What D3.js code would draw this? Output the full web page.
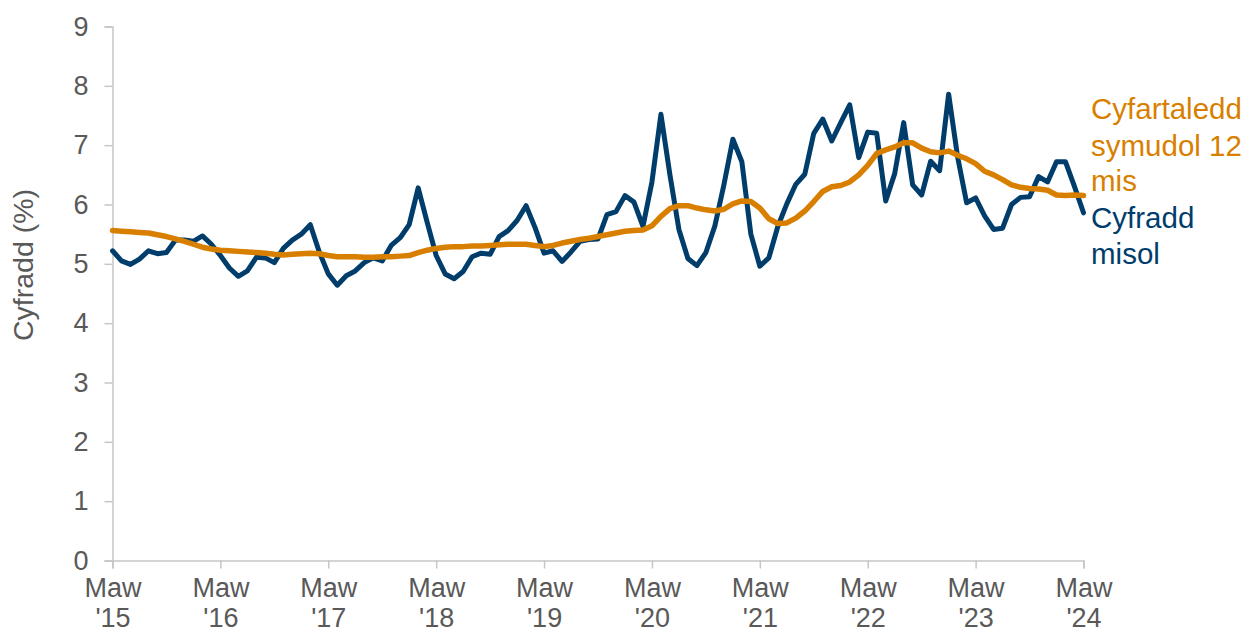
<!DOCTYPE html>
<html>
<head>
<meta charset="utf-8">
<script src="https://cdn.jsdelivr.net/npm/d3@7"></script>
<style>
  html, body { margin: 0; padding: 0; background: #ffffff; }
  svg { display: block; font-family: "Liberation Sans", Arial, sans-serif; }
</style>
</head>
<body>
<svg id="chart" width="1251" height="628"></svg>
<script>
// ---- Data ----
const startYear = 2015; // first point: Mawrth 2015, monthly to Mawrth 2024
const yTicks = [0, 1, 2, 3, 4, 5, 6, 7, 8, 9];
const xTickLabels = ["'15", "'16", "'17", "'18", "'19", "'20", "'21", "'22", "'23", "'24"];
const xTickMonth = "Maw";
const yAxisTitle = "Cyfradd (%)";
const seriesNames = ["Cyfartaledd symudol 12 mis", "Cyfradd misol"];

const monthlyRate = [
  5.22, 5.05, 4.99, 5.08, 5.22, 5.17, 5.19, 5.40, 5.40, 5.38, 5.47, 5.33,
  5.14, 4.93, 4.79, 4.88, 5.11, 5.10, 5.02, 5.26, 5.40, 5.50, 5.66, 5.20,
  4.83, 4.64, 4.80, 4.88, 5.02, 5.10, 5.05, 5.31, 5.44, 5.66, 6.28, 5.70,
  5.14, 4.83, 4.75, 4.87, 5.12, 5.18, 5.16, 5.46, 5.56, 5.73, 5.98, 5.61,
  5.18, 5.22, 5.04, 5.20, 5.38, 5.41, 5.42, 5.83, 5.88, 6.15, 6.04, 5.63,
  6.38, 7.52, 6.50, 5.58, 5.09, 4.97, 5.19, 5.64, 6.33, 7.10, 6.72, 5.50,
  4.96, 5.10, 5.63, 6.01, 6.34, 6.51, 7.20, 7.44, 7.07, 7.38, 7.68, 6.79,
  7.22, 7.20, 6.06, 6.52, 7.38, 6.33, 6.16, 6.73, 6.57, 7.86, 6.80, 6.03,
  6.11, 5.81, 5.58, 5.60, 6.00, 6.12, 6.13, 6.47, 6.38, 6.72, 6.72, 6.30,
  5.86
];

const rollingAvg = [
  5.56, 5.55, 5.54, 5.53, 5.52, 5.49, 5.46, 5.42, 5.38, 5.33, 5.28, 5.25,
  5.23, 5.22, 5.21, 5.20, 5.19, 5.18, 5.16, 5.15, 5.16, 5.17, 5.18, 5.17,
  5.14, 5.12, 5.12, 5.12, 5.11, 5.11, 5.12, 5.12, 5.13, 5.14, 5.19, 5.23,
  5.26, 5.28, 5.29, 5.29, 5.30, 5.30, 5.31, 5.32, 5.33, 5.33, 5.33, 5.31,
  5.29, 5.31, 5.35, 5.38, 5.41, 5.43, 5.46, 5.49, 5.52, 5.55, 5.56, 5.57,
  5.64, 5.80, 5.93, 5.98, 5.98, 5.94, 5.91, 5.89, 5.92, 6.01, 6.06, 6.05,
  5.94, 5.76, 5.68, 5.69, 5.77, 5.89, 6.05, 6.22, 6.30, 6.32, 6.38, 6.50,
  6.66, 6.86, 6.92, 6.97, 7.04, 7.04, 6.95, 6.89, 6.87, 6.90, 6.83, 6.77,
  6.69, 6.56, 6.50, 6.42, 6.33, 6.29, 6.27, 6.26, 6.24, 6.16, 6.15, 6.16,
  6.15
];

// ---- Layout ----
const svg = d3.select("#chart");
const colBlue = "#003d6b";
const colOrange = "#d97f00";
const colAxis = "#c6c6c6";
const colText = "#595959";

const x = d3.scaleLinear().domain([0, monthlyRate.length - 1]).range([112.5, 1083.5]);
const y = d3.scaleLinear().domain([0, 9]).range([560.5, 26.5]);

// Y axis
const yAxis = d3.axisLeft(y).tickValues(yTicks).tickSize(8).tickPadding(16).tickFormat(d3.format("d"));
const gy = svg.append("g").attr("transform", "translate(112.5,0)").call(yAxis);
gy.select(".domain").attr("stroke", colAxis).attr("stroke-width", 1.5);
gy.selectAll(".tick line").attr("stroke", colAxis).attr("stroke-width", 1.5);
gy.selectAll(".tick text").attr("fill", colText).attr("font-size", 27).attr("font-family", "Liberation Sans, Arial, sans-serif");

// X axis
const xTickVals = xTickLabels.map((_, i) => i * 12);
const xAxis = d3.axisBottom(x).tickValues(xTickVals).tickSize(8).tickFormat(() => "");
const gx = svg.append("g").attr("transform", "translate(0,560.5)").call(xAxis);
gx.select(".domain").attr("stroke", colAxis).attr("stroke-width", 1.5);
gx.selectAll(".tick line").attr("stroke", colAxis).attr("stroke-width", 1.5);
gx.selectAll(".tick").each(function(d, i) {
  const t = d3.select(this).select("text")
    .attr("fill", colText).attr("font-size", 27)
    .attr("font-family", "Liberation Sans, Arial, sans-serif")
    .attr("text-anchor", "middle").attr("y", 0).attr("dy", null);
  t.append("tspan").attr("x", 0).attr("y", 36).text(xTickMonth);
  t.append("tspan").attr("x", 0).attr("y", 66).text(xTickLabels[i]);
});

// Y axis title
svg.append("text")
  .attr("transform", "translate(33,265) rotate(-90)")
  .attr("text-anchor", "middle")
  .attr("fill", colText)
  .attr("font-size", 28.5)
  .text(yAxisTitle);

// Lines
const line = d3.line().x((d, i) => x(i)).y(d => y(d)).curve(d3.curveLinear);

svg.append("path")
  .datum(monthlyRate)
  .attr("fill", "none")
  .attr("stroke", colBlue)
  .attr("stroke-width", 5)
  .attr("stroke-linejoin", "round")
  .attr("stroke-linecap", "round")
  .attr("d", line);

svg.append("path")
  .datum(rollingAvg)
  .attr("fill", "none")
  .attr("stroke", colOrange)
  .attr("stroke-width", 5.5)
  .attr("stroke-linejoin", "round")
  .attr("stroke-linecap", "round")
  .attr("d", line);

// Direct labels
const lab1 = svg.append("text").attr("fill", colOrange).attr("font-size", 29.5);
[["Cyfartaledd", 119], ["symudol 12", 155.5], ["mis", 191]].forEach(([t, yy]) => {
  lab1.append("tspan").attr("x", 1091).attr("y", yy).text(t);
});
const lab2 = svg.append("text").attr("fill", colBlue).attr("font-size", 29.5);
[["Cyfradd", 228], ["misol", 264]].forEach(([t, yy]) => {
  lab2.append("tspan").attr("x", 1091).attr("y", yy).text(t);
});
</script>
</body>
</html>
